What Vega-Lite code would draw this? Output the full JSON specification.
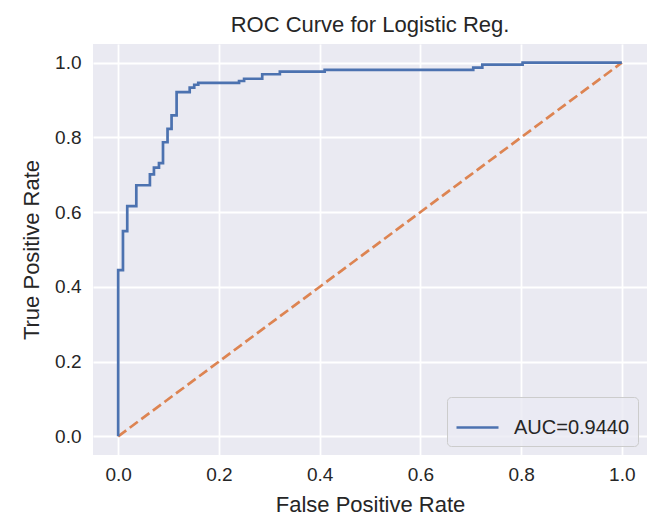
{
  "$schema": "https://vega.github.io/schema/vega-lite/v6.json",
  "width": 554,
  "height": 411,
  "autosize": {"type": "none"},
  "padding": {"left": 93, "top": 44, "right": 0, "bottom": 61},
  "background": "#ffffff",
  "title": {
    "text": "ROC Curve for Logistic Reg.",
    "font": "Liberation Sans",
    "fontSize": 22,
    "fontWeight": "normal",
    "color": "#262626",
    "offset": 7
  },
  "config": {
    "view": {"fill": "#eaeaf2", "stroke": null},
    "axis": {
      "domain": false,
      "ticks": false,
      "grid": true,
      "gridColor": "#ffffff",
      "gridWidth": 1.8,
      "labelFont": "Liberation Sans",
      "labelFontSize": 19,
      "labelColor": "#262626",
      "titleFont": "Liberation Sans",
      "titleFontSize": 22,
      "titleFontWeight": "normal",
      "titleColor": "#262626"
    }
  },
  "datasets": {
    "roc": [
      {"step": 0, "fpr": 0, "tpr": 0, "series": "AUC=0.9440"},
      {"step": 1, "fpr": 0, "tpr": 0.445, "series": "AUC=0.9440"},
      {"step": 2, "fpr": 0.0095, "tpr": 0.549, "series": "AUC=0.9440"},
      {"step": 3, "fpr": 0.018, "tpr": 0.616, "series": "AUC=0.9440"},
      {"step": 4, "fpr": 0.036, "tpr": 0.672, "series": "AUC=0.9440"},
      {"step": 5, "fpr": 0.063, "tpr": 0.701, "series": "AUC=0.9440"},
      {"step": 6, "fpr": 0.071, "tpr": 0.719, "series": "AUC=0.9440"},
      {"step": 7, "fpr": 0.081, "tpr": 0.731, "series": "AUC=0.9440"},
      {"step": 8, "fpr": 0.089, "tpr": 0.787, "series": "AUC=0.9440"},
      {"step": 9, "fpr": 0.098, "tpr": 0.823, "series": "AUC=0.9440"},
      {"step": 10, "fpr": 0.106, "tpr": 0.859, "series": "AUC=0.9440"},
      {"step": 11, "fpr": 0.116, "tpr": 0.921, "series": "AUC=0.9440"},
      {"step": 12, "fpr": 0.142, "tpr": 0.933, "series": "AUC=0.9440"},
      {"step": 13, "fpr": 0.151, "tpr": 0.941, "series": "AUC=0.9440"},
      {"step": 14, "fpr": 0.159, "tpr": 0.946, "series": "AUC=0.9440"},
      {"step": 15, "fpr": 0.240, "tpr": 0.951, "series": "AUC=0.9440"},
      {"step": 16, "fpr": 0.250, "tpr": 0.957, "series": "AUC=0.9440"},
      {"step": 17, "fpr": 0.286, "tpr": 0.969, "series": "AUC=0.9440"},
      {"step": 18, "fpr": 0.321, "tpr": 0.976, "series": "AUC=0.9440"},
      {"step": 19, "fpr": 0.410, "tpr": 0.981, "series": "AUC=0.9440"},
      {"step": 20, "fpr": 0.705, "tpr": 0.987, "series": "AUC=0.9440"},
      {"step": 21, "fpr": 0.723, "tpr": 0.995, "series": "AUC=0.9440"},
      {"step": 22, "fpr": 0.803, "tpr": 1.0, "series": "AUC=0.9440"},
      {"step": 23, "fpr": 1.0, "tpr": 1.0, "series": "AUC=0.9440"}
    ],
    "diag": [
      {"fpr": 0, "tpr": 0},
      {"fpr": 1, "tpr": 1}
    ]
  },
  "layer": [
    {
      "data": {"name": "diag"},
      "mark": {"type": "line", "color": "#dd8452", "strokeWidth": 2.7, "strokeDash": [10, 4.4]},
      "encoding": {
        "x": {"field": "fpr", "type": "quantitative"},
        "y": {"field": "tpr", "type": "quantitative"}
      }
    },
    {
      "data": {"name": "roc"},
      "mark": {"type": "line", "interpolate": "step-after", "strokeWidth": 2.7},
      "encoding": {
        "x": {
          "field": "fpr",
          "type": "quantitative",
          "scale": {"domain": [-0.05, 1.05], "nice": false, "zero": false},
          "axis": {"values": [0, 0.2, 0.4, 0.6, 0.8, 1.0], "format": ".1f", "title": "False Positive Rate", "labelPadding": 10, "titlePadding": 10}
        },
        "y": {
          "field": "tpr",
          "type": "quantitative",
          "scale": {"domain": [-0.05, 1.05], "nice": false, "zero": false},
          "axis": {"values": [0, 0.2, 0.4, 0.6, 0.8, 1.0], "format": ".1f", "title": "True Positive Rate", "labelPadding": 12, "titlePadding": 11}
        },
        "order": {"field": "step", "type": "quantitative"},
        "color": {
          "field": "series",
          "type": "nominal",
          "scale": {"domain": ["AUC=0.9440"], "range": ["#4c72b0"]},
          "legend": {
            "title": null,
            "orient": "bottom-right",
            "offset": 9,
            "symbolType": "stroke",
            "symbolSize": 1764,
            "symbolStrokeWidth": 2.7,
            "labelFont": "Liberation Sans",
            "labelFontSize": 20,
            "labelColor": "#262626",
            "labelOffset": 14,
            "padding": 8,
            "fillColor": "rgba(234,234,242,0.8)",
            "strokeColor": "#cccccc",
            "cornerRadius": 4
          }
        }
      }
    }
  ]
}
